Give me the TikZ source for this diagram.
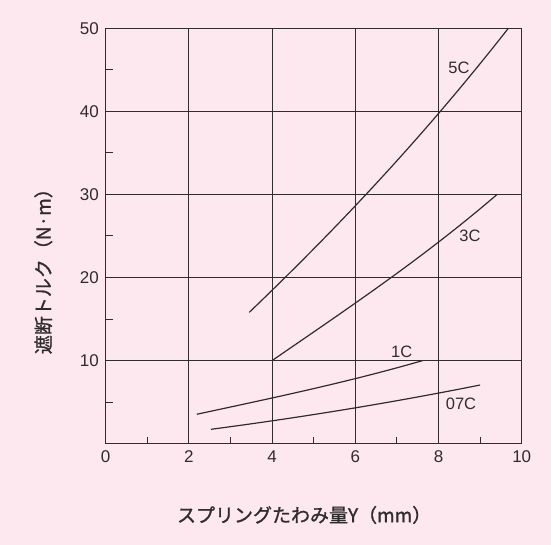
\documentclass[tikz,border=0pt]{standalone}
\usepackage{fontspec}
\setmainfont{Liberation Sans}
\newfontfamily\jp[FakeBold=1.2]{Noto Sans CJK JP}
\definecolor{bg}{HTML}{FDE8F0}
\definecolor{ink}{HTML}{302C2E}
\begin{document}
\begin{tikzpicture}[x=41.6pt,y=8.31pt,
  frame/.style={draw=ink,line width=1.3pt},
  gridline/.style={draw=ink,line width=1pt},
  curve/.style={draw=ink,line width=1.2pt},
  ticklab/.style={font=\fontsize{17}{17}\selectfont,text=ink,inner sep=0pt},
  curvelab/.style={font=\fontsize{16.5}{16.5}\selectfont,text=ink,inner sep=0pt},
  title/.style={font=\jp\fontsize{19}{19}\selectfont,text=ink,inner sep=0pt}]
\fill[bg] (-2.541,-12.19) rectangle (10.704,53.39);
\useasboundingbox (-2.541,-12.19) rectangle (10.704,53.39);
% grid
\foreach \gx in {2,4,6,8} \draw[gridline] (\gx,0) -- (\gx,50);
\foreach \gy in {10,20,30,40} \draw[gridline] (0,\gy) -- (10,\gy);
% minor ticks
\foreach \mx in {1,3,5,7,9} \draw[gridline] (\mx,0) -- ++(0,0.84);
\foreach \my in {5,15,25,35,45} \draw[gridline] (0,\my) -- ++(0.185,0);
\draw[frame] (0,0) rectangle (10,50);
% tick labels
\foreach \xv in {0,2,4,6,8,10} \node[ticklab,anchor=base] (xl\xv) at (\xv,-2.25) {\xv};
\foreach \yv in {10,20,30,40,50} \node[ticklab,anchor=east] (yl\yv) at (-0.16,\yv) {\yv};
% curves
\draw[curve] (3.45,15.8) .. controls (5.527,25.77) and (7.603,36.71) .. (9.68,50);
\draw[curve] (4,10) .. controls (5.803,16.22) and (7.607,22.25) .. (9.41,30);
\draw[curve] (2.19,3.54) .. controls (4.0,5.49) and (5.81,7.38) .. (7.62,10);
\draw[curve] (2.53,1.73) .. controls (4.687,3.15) and (6.843,4.90) .. (9.0,7.06);
% curve labels
\node[curvelab] (l5c) at (8.493,45.25) {5C};
\node[curvelab] (l3c) at (8.757,25.0) {3C};
\node[curvelab] (l1c) at (7.115,11.07) {1C};
\node[curvelab] (l07c) at (8.54,4.77) {07C};
% axis titles
\node[title] (xt) at (4.77,-8.58) {スプリングたわみ量Y（mm）};
\node[title,rotate=90] (yt) at (-1.50,21.3) {遮断トルク（N·m）};
\end{tikzpicture}
\end{document}
